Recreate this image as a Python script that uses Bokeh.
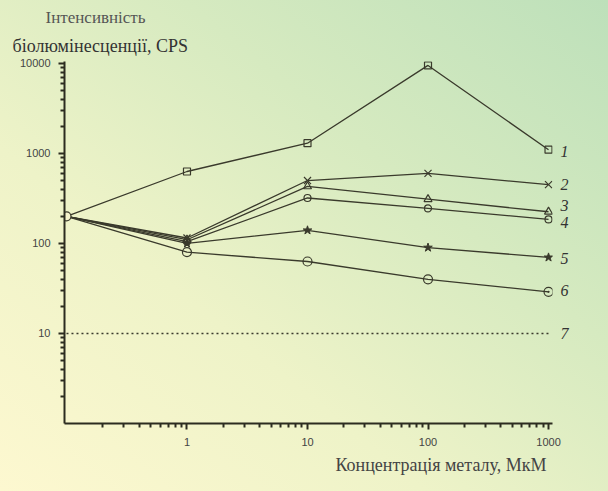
from bokeh.plotting import figure
from bokeh.models import (FixedTicker, CustomJSTickFormatter, Range1d, LogAxis, Title)
from bokeh.embed import file_html
from bokeh.resources import INLINE

# ---- data ----
x_start = [0.1]
y_start = [200]
conc = [1, 10, 100, 1000]
s1 = [630, 1300, 9500, 1100]
s2 = [115, 500, 600, 450]
s3 = [110, 430, 310, 225]
s4 = [105, 320, 245, 185]
s5 = [100, 140, 90, 70]
s6 = [80, 63, 40, 29]
s7_x = [0.1, 1000]
s7_y = [10, 10]
series_labels = ["1", "2", "3", "4", "5", "6", "7"]
label_y = [1050, 450, 265, 170, 68, 30, 10]
y_ticks = [10, 100, 1000, 10000]
x_ticks = [1, 10, 100, 1000]

LINE = "#3a3a2c"
AX = "#2c2c20"

p = figure(width=608, height=491, x_axis_type="log", y_axis_type="log",
           x_range=Range1d(0.0963, 1079), y_range=Range1d(1, 10500),
           output_backend="svg", toolbar_location=None,
           min_border_left=64, min_border_right=56,
           min_border_top=61, min_border_bottom=68)
p.border_fill_color = None
p.background_fill_color = None
p.outline_line_color = None
p.styles = {"background-image":
            "linear-gradient(to top right, #fdf8d0 0%, #eef3c8 35%, #d6eac0 65%, #bde0ba 100%)"}
p.xgrid.visible = False
p.ygrid.visible = False

y_minor = [m * 10 ** e for e in range(0, 4) for m in range(2, 10)]
x_minor = [m * 10 ** e for e in range(-1, 3) for m in range(2, 10)]
p.yaxis.ticker = FixedTicker(ticks=y_ticks, minor_ticks=y_minor)
p.xaxis.ticker = FixedTicker(ticks=x_ticks, minor_ticks=x_minor)
fmt = CustomJSTickFormatter(code="return tick.toFixed(0)")
p.yaxis.formatter = fmt
p.xaxis.formatter = fmt
for ax in (p.xaxis, p.yaxis):
    ax.axis_line_color = AX
    ax.axis_line_width = 2
    ax.major_tick_line_color = AX
    ax.minor_tick_line_color = AX
    ax.major_tick_line_width = 2
    ax.minor_tick_line_width = 2
    ax.major_tick_in = 0
    ax.minor_tick_in = 0
    ax.major_tick_out = 6
    ax.minor_tick_out = 4
    ax.major_label_text_font = "Liberation Sans"
    ax.major_label_text_font_size = "11px"
    ax.major_label_text_color = "#444444"
p.yaxis.major_label_standoff = 8
p.xaxis.major_label_standoff = 8

# curve numbers on the right, as an axis without line or ticks
num_axis = LogAxis(ticker=FixedTicker(ticks=label_y, minor_ticks=[]),
                   formatter=CustomJSTickFormatter(
                       args=dict(ys=label_y, labs=series_labels),
                       code="for (let i = 0; i < ys.length; i++) {"
                            " if (Math.abs(ys[i] - tick) / ys[i] < 1e-6) return labs[i]; }"
                            " return '';"))
num_axis.axis_line_color = None
num_axis.major_tick_line_color = None
num_axis.minor_tick_line_color = None
num_axis.major_label_standoff = 2
num_axis.major_label_text_font = "Liberation Serif"
num_axis.major_label_text_font_style = "italic"
num_axis.major_label_text_font_size = "16px"
num_axis.major_label_text_color = "#333333"
p.add_layout(num_axis, "right")

series = [s1, s2, s3, s4, s5, s6]
for s in series:
    p.line(x_start + conc, y_start + s, line_color=LINE, line_width=1.3)

p.line(s7_x, s7_y, line_color=LINE, line_width=1.3, line_dash="2 3")

p.scatter(x_start, y_start, marker="circle", size=9, line_color=LINE,
          fill_color="#f6f4cc", line_width=1.2)
p.scatter(conc, s1, marker="square", size=7, line_color=LINE, fill_color=None, line_width=1.2)
p.scatter(conc, s2, marker="x", size=10, line_color=LINE, line_width=1.2)
p.scatter(conc, s3, marker="triangle", size=8, line_color=LINE, fill_color=None, line_width=1.2)
p.scatter(conc, s4, marker="circle", size=7, line_color=LINE, fill_color=None, line_width=1.2)
p.scatter(conc, s5, marker="star", size=9, line_color=LINE, fill_color=LINE, line_width=1)
p.scatter(conc[:3], s6[:3], marker="circle", size=9, line_color=LINE, fill_color=None, line_width=1.2)
p.scatter(conc[3:], s6[3:], marker="circle_dot", size=9, line_color=LINE, fill_color=None, line_width=1.2)

# y-axis title (two lines, top-left)
t2 = Title(text="біолюмінесценції, CPS", align="left", offset=-52, standoff=12,
           text_font="Liberation Serif", text_font_size="18px",
           text_font_style="normal", text_color="#333333")
t1 = Title(text="Інтенсивність", align="left", offset=-19, standoff=2,
           text_font="Liberation Serif", text_font_size="17px",
           text_font_style="normal", text_color="#555555")
p.add_layout(t2, "above")
p.add_layout(t1, "above")

# x-axis title (bottom right)
tx = Title(text="Концентрація металу, МкМ", align="right", offset=6, standoff=8,
           text_font="Liberation Serif", text_font_size="18px",
           text_font_style="normal", text_color="#444444")
p.add_layout(tx, "below")

open("out.html", "w").write(file_html(p, INLINE))
